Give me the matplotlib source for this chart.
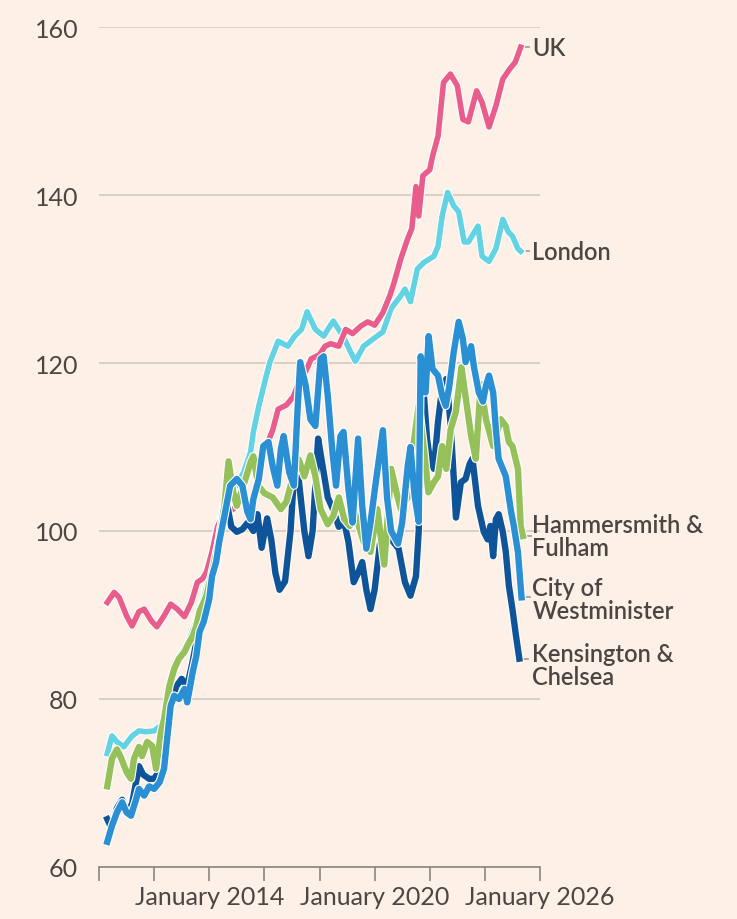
import matplotlib.pyplot as plt
import matplotlib.patheffects as pe

# house price index (decimal years)
uk_x = [2010.3, 2010.55, 2010.73, 2011.0, 2011.2, 2011.45, 2011.64, 2011.9, 2012.1, 2012.36, 2012.6, 2012.84,
        2013.1, 2013.35, 2013.57, 2013.75, 2013.9, 2014.1, 2014.3, 2014.5, 2014.75, 2015.0, 2015.2, 2015.45,
        2015.6, 2015.8, 2016.0, 2016.3, 2016.5, 2016.8, 2017.05, 2017.3, 2017.5, 2017.7, 2018.0, 2018.2,
        2018.4, 2018.7, 2018.95, 2019.2, 2019.5, 2019.75, 2020.0, 2020.3, 2020.55, 2020.7, 2020.95, 2021.2,
        2021.35, 2021.5, 2021.6, 2021.75, 2022.0, 2022.1, 2022.3, 2022.5, 2022.75, 2023.0, 2023.2, 2023.4,
        2023.7, 2023.9, 2024.15, 2024.4, 2024.65, 2024.9, 2025.1, 2025.3]
uk_y = [91.5, 92.7, 92.1, 89.9, 88.7, 90.4, 90.7, 89.3, 88.6, 89.9, 91.3, 90.7,
        89.8, 91.5, 93.9, 94.3, 95.1, 97.5, 100.5, 102.0, 102.3, 103.0, 105.0, 107.0,
        107.5, 107.8, 109.5, 112.0, 114.5, 115.0, 116.0, 118.1, 119.0, 120.5, 121.0, 122.0,
        122.3, 122.0, 124.0, 123.5, 124.4, 124.9, 124.5, 126.0, 128.0, 129.5, 132.4, 134.8,
        136.0, 141.0, 137.5, 142.3, 143.0, 144.6, 147.0, 153.4, 154.4, 153.0, 149.0, 148.7,
        152.4, 151.0, 148.1, 150.6, 153.8, 155.0, 155.8, 157.6]

london_x = [2010.3, 2010.47, 2010.65, 2010.9, 2011.2, 2011.45, 2011.7, 2012.0, 2012.3, 2012.6, 2012.9, 2013.2,
            2013.5, 2013.8, 2014.0, 2014.25, 2014.5, 2014.75, 2015.0, 2015.25, 2015.5, 2015.6, 2015.8, 2016.04,
            2016.2, 2016.5, 2016.85, 2017.1, 2017.35, 2017.55, 2017.85, 2018.15, 2018.5, 2018.87, 2019.1, 2019.3,
            2019.6, 2019.96, 2020.3, 2020.6, 2020.95, 2021.1, 2021.3, 2021.55, 2021.8, 2022.15, 2022.3, 2022.45,
            2022.65, 2022.87, 2023.05, 2023.25, 2023.4, 2023.75, 2023.9, 2024.15, 2024.4, 2024.65, 2024.85,
            2025.0, 2025.2, 2025.3]
london_y = [73.5, 75.6, 74.9, 74.3, 75.6, 76.2, 76.1, 76.2, 77.0, 81.5, 85.0, 86.5,
            89.0, 92.0, 94.5, 99.0, 103.0, 104.5, 105.5, 107.0, 109.4, 111.8, 114.9, 118.1,
            120.1, 122.6, 122.0, 123.2, 124.0, 126.1, 124.0, 123.2, 125.0, 123.1, 121.5, 120.2,
            122.0, 122.9, 123.7, 126.5, 128.0, 128.8, 127.3, 131.2, 132.0, 132.7, 133.9, 137.5,
            140.3, 138.7, 138.0, 134.4, 134.4, 136.3, 132.7, 132.1, 133.6, 137.1, 135.6,
            135.1, 133.6, 133.3]

hf_x = [2010.3, 2010.47, 2010.65, 2010.8, 2011.0, 2011.16, 2011.27, 2011.45, 2011.56, 2011.75, 2011.93, 2012.07,
        2012.25, 2012.36, 2012.55, 2012.73, 2012.9, 2013.1, 2013.2, 2013.4, 2013.53, 2013.65, 2013.9, 2014.1,
        2014.36, 2014.55, 2014.7, 2014.87, 2015.0, 2015.24, 2015.5, 2015.6, 2015.78, 2016.0, 2016.3, 2016.6,
        2016.8, 2017.0, 2017.25, 2017.45, 2017.67, 2017.85, 2018.04, 2018.3, 2018.5, 2018.7, 2018.9, 2019.1,
        2019.3, 2019.6, 2019.85, 2020.1, 2020.35, 2020.6, 2020.8, 2020.95, 2021.2, 2021.4, 2021.6, 2021.8,
        2021.95, 2022.15, 2022.3, 2022.45, 2022.6, 2022.76, 2022.95, 2023.15, 2023.3, 2023.5, 2023.67, 2023.85,
        2024.04, 2024.3, 2024.58, 2024.76, 2024.87, 2025.0, 2025.2, 2025.3, 2025.38]
hf_y = [69.6, 72.9, 74.0, 73.0, 71.3, 70.5, 72.9, 74.3, 73.2, 74.9, 74.4, 71.7,
        76.1, 77.6, 81.5, 83.6, 84.8, 85.6, 86.3, 87.5, 88.7, 90.4, 92.3, 95.1,
        99.0, 103.0, 108.3, 104.6, 103.0, 105.4, 108.2, 108.9, 105.4, 104.5, 104.0, 102.6,
        103.5, 106.0, 108.5, 106.5, 109.0, 106.5, 102.6, 100.8, 101.8, 104.0, 101.4, 100.6,
        102.0, 98.7, 97.5, 102.6, 96.0, 107.4, 104.5, 102.6, 104.0, 110.0, 115.0, 109.5,
        104.6, 105.8, 106.5, 110.1, 107.4, 112.1, 114.2, 119.5, 116.0, 111.3, 108.6, 117.5,
        113.3, 110.1, 113.3, 112.5, 110.6, 110.1, 107.4, 100.6, 99.4]

wm_x = [2010.3, 2010.47, 2010.65, 2010.84, 2011.0, 2011.16, 2011.35, 2011.45, 2011.64, 2011.82, 2012.0, 2012.2,
        2012.36, 2012.47, 2012.6, 2012.73, 2012.9, 2013.1, 2013.2, 2013.4, 2013.53, 2013.65, 2013.8, 2014.0,
        2014.1, 2014.25, 2014.36, 2014.55, 2014.76, 2015.0, 2015.2, 2015.38, 2015.5, 2015.6, 2015.8, 2015.96,
        2016.15, 2016.3, 2016.47, 2016.6, 2016.7, 2016.9, 2017.07, 2017.2, 2017.3, 2017.5, 2017.67, 2017.85,
        2018.04, 2018.15, 2018.3, 2018.47, 2018.6, 2018.76, 2018.87, 2019.05, 2019.2, 2019.4, 2019.55, 2019.7,
        2019.85, 2020.05, 2020.3, 2020.45, 2020.6, 2020.85, 2021.0, 2021.2, 2021.3, 2021.45, 2021.6, 2021.67,
        2021.85, 2021.96, 2022.1, 2022.3, 2022.45, 2022.58, 2022.7, 2022.87, 2023.05, 2023.2, 2023.3, 2023.5,
        2023.6, 2023.78, 2023.93, 2024.04, 2024.15, 2024.3, 2024.4, 2024.5, 2024.65, 2024.76, 2024.95, 2025.05,
        2025.2, 2025.33]
wm_y = [63.0, 64.9, 66.5, 67.7, 66.5, 66.1, 68.1, 69.3, 68.5, 69.6, 69.3, 70.1,
        71.7, 75.2, 79.2, 80.4, 80.0, 81.2, 79.6, 83.2, 85.1, 88.0, 89.2, 91.9,
        94.6, 96.3, 98.7, 101.8, 105.4, 106.2, 105.4, 102.3, 101.4, 103.8, 106.2, 110.1,
        110.6, 107.7, 105.4, 109.8, 111.3, 107.0, 105.4, 114.2, 120.1, 117.3, 113.3, 112.5,
        120.5, 120.8, 116.1, 109.4, 105.4, 111.3, 111.8, 105.0, 101.0, 111.0, 103.0, 97.9,
        101.0, 106.0, 112.0, 104.0, 100.0, 98.5, 101.0, 107.7, 110.0, 104.2, 101.1, 120.8,
        116.5, 123.2, 119.3, 118.5, 116.1, 114.9, 117.0, 121.3, 124.9, 122.9, 120.1, 122.0,
        119.6, 116.5, 115.4, 117.3, 118.5, 116.5, 112.1, 108.6, 107.4, 106.5, 102.3, 100.6,
        97.5, 92.1]

kc_x = [2010.3, 2010.47, 2010.65, 2010.84, 2011.0, 2011.2, 2011.45, 2011.6, 2011.82, 2012.0, 2012.2, 2012.4,
        2012.6, 2012.8, 2013.0, 2013.2, 2013.4, 2013.6, 2013.8, 2014.0, 2014.2, 2014.4, 2014.6, 2014.8,
        2015.0, 2015.2, 2015.4, 2015.6, 2015.75, 2015.9, 2016.1, 2016.25, 2016.4, 2016.55, 2016.75, 2016.95,
        2017.1, 2017.25, 2017.45, 2017.6, 2017.75, 2017.95, 2018.1, 2018.3, 2018.5, 2018.7, 2018.9, 2019.05,
        2019.24, 2019.4, 2019.55, 2019.7, 2019.85, 2020.0, 2020.2, 2020.4, 2020.6, 2020.87, 2021.1, 2021.3,
        2021.5, 2021.6, 2021.67, 2021.8, 2021.9, 2022.0, 2022.15, 2022.3, 2022.45, 2022.6, 2022.75, 2022.85,
        2022.95, 2023.13, 2023.3, 2023.45, 2023.55, 2023.75, 2023.96, 2024.1, 2024.2, 2024.3, 2024.4, 2024.5,
        2024.65, 2024.76, 2024.87, 2025.0, 2025.13, 2025.25]
kc_y = [65.7, 64.5, 67.0, 68.0, 66.5, 67.5, 72.0, 71.0, 70.5, 70.5, 71.5, 74.0,
        79.0, 81.5, 82.4, 81.5, 84.5, 88.0, 90.0, 93.0, 96.0, 100.0, 104.0, 100.5,
        99.9, 100.2, 101.0, 100.0, 102.0, 98.0, 101.5, 99.0, 95.0, 93.0, 94.0, 100.0,
        108.0, 106.0, 100.0, 97.0, 100.0, 111.0, 108.0, 104.0, 102.5, 100.5, 101.0, 98.7,
        93.9, 95.0, 96.3, 93.0, 90.7, 93.0, 98.7, 100.0, 99.0, 97.9, 93.9, 92.3,
        94.6, 100.0, 119.0, 115.7, 111.0, 108.6, 107.4, 113.0, 117.0, 118.1, 113.0, 107.5,
        101.6, 105.8, 106.2, 108.0, 108.6, 103.0, 99.9, 99.0, 100.6, 97.0, 101.4, 102.0,
        99.9, 97.5, 93.5, 90.7, 87.5, 84.8]

names = ['UK', 'London', 'Hammersmith &\nFulham', 'City of\nWestminister', 'Kensington &\nChelsea']
colors = ['#e95d8c', '#63d3e3', '#96c15a', '#2a8fd3', '#0f5499']
bg = '#fdf0e6'
txt = '#4b4643'

plt.rcParams['font.family'] = ['Lato', 'DejaVu Sans']

fig = plt.figure(figsize=(7.37, 9.2), dpi=100, facecolor=bg)
ax = fig.add_axes([99 / 737, 52 / 920, 441 / 737, 840 / 920])
ax.set_facecolor(bg)

series = [(london_x, london_y), (uk_x, uk_y), (kc_x, kc_y), (hf_x, hf_y), (wm_x, wm_y)]
order = [1, 0, 4, 2, 3]
for (xs, ys), i in zip(series, order):
    lw = 4.0 if i < 2 else 4.6
    ax.plot(xs, ys, color=colors[i], lw=lw, solid_joinstyle='round', zorder=3 + order.index(i),
            path_effects=[pe.Stroke(linewidth=lw + 1.6, foreground='white'), pe.Normal()])

# labels at the end of each line
ends = [(uk_x, uk_y), (london_x, london_y), (hf_x, hf_y), (wm_x, wm_y), (kc_x, kc_y)]
nudge = [0, 0, 0, -0.2, -0.8]
for name, (xs, ys), dy in zip(names, ends, nudge):
    ax.plot([xs[-1], xs[-1] + 0.3], [ys[-1], ys[-1]], color='#a09a94', lw=1.2, zorder=2, clip_on=False)
    ax.text(2025.72, ys[-1] + dy, name, fontsize=17, color=txt, fontweight='semibold',
            va='center', ha='left', linespacing=1.0)

ax.set_xlim(2010, 2026)
ax.set_ylim(60, 160)
ax.set_yticks([60, 80, 100, 120, 140, 160])
ax.grid(axis='y', color='#d4cac0', lw=1.2, zorder=0)
ax.set_xticks(range(2010, 2027, 2))
ax.set_xticklabels(['', '', 'January 2014', '', '', 'January 2020', '', '', 'January 2026'])
ax.tick_params(axis='x', length=10, width=1.2, color='#8a8580', labelsize=18, labelcolor=txt, pad=3)
ax.tick_params(axis='y', length=0, labelsize=18, labelcolor=txt, pad=15)
for s in ['top', 'right', 'left']:
    ax.spines[s].set_visible(False)
ax.spines['bottom'].set_color('#8a8580')
ax.spines['bottom'].set_linewidth(1.2)

plt.savefig('out.png', dpi=100, facecolor=bg)
